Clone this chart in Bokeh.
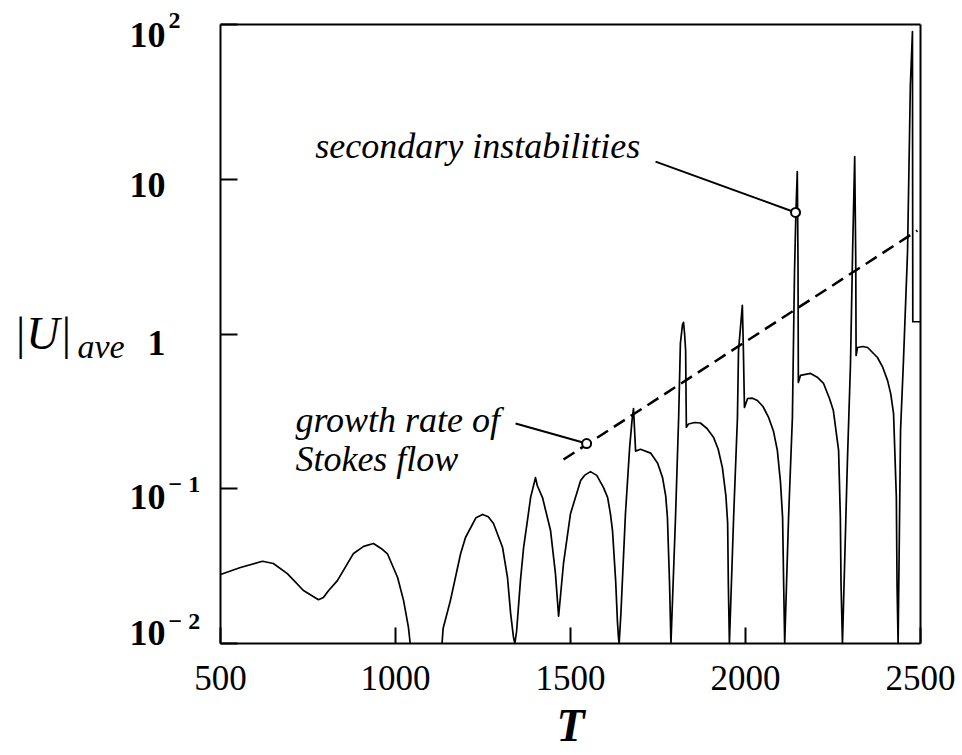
from bokeh.plotting import figure
from bokeh.models import Range1d, FixedTicker, Label, LinearAxis, LogAxis
from bokeh.embed import file_html
from bokeh.resources import INLINE

NaN = float("nan")

# ---------------- data ----------------
T = [500, 557, 620, 651, 691, 737, 780, 794, 809, 834, 880, 909, 937, 960, 977, 1006, 1023, 1037, 1042,
     NaN,
     1133, 1136, 1157, 1186, 1200, 1230, 1249, 1265, 1280, 1306, 1320, 1329, 1337,
     1341, 1346, 1357, 1366, 1377, 1386, 1400, 1405, 1420, 1443, 1457, 1466, 1480, 1500, 1529, 1540, 1557, 1575,
     1594, 1606, 1614, 1620, 1629, 1634, 1637,
     1639, 1644, 1657, 1669, 1676, 1680, 1683, 1686, 1700, 1729, 1749, 1763, 1772, 1777, 1783,
     1787, 1800, 1809, 1814, 1820, 1823, 1826, 1829, 1831, 1837, 1855, 1871, 1890, 1909, 1922, 1934, 1944, 1949, 1951,
     1954, 1966, 1977, 1980, 1991, 1994, 1997, 2006, 2020, 2034, 2050, 2066, 2080, 2091, 2100, 2106, 2109,
     2112, 2123, 2134, 2140, 2144, 2148, 2150, 2151, 2157, 2186, 2205, 2223, 2240, 2251, 2266, 2271, 2273,
     2277, 2291, 2300, 2306, 2312, 2315, 2316, 2320, 2335, 2349, 2377, 2392, 2406, 2415, 2423, 2431, 2433,
     2436, 2443, 2451, 2463, 2471, 2477, 2478, 2500]
U_ave = [0.0279, 0.031, 0.034, 0.0329, 0.0283, 0.022, 0.0192, 0.0198, 0.022, 0.0255, 0.0382, 0.0424, 0.0443, 0.041, 0.038, 0.0267, 0.019, 0.0127, 0.0100,
         NaN,
         0.0100, 0.0125, 0.019, 0.038, 0.0484, 0.065, 0.0682, 0.066, 0.0596, 0.0417, 0.0267, 0.0156, 0.0110,
         0.0100, 0.0120, 0.0255, 0.0417, 0.0624, 0.0877, 0.118, 0.105, 0.0877, 0.0537, 0.0283, 0.0150, 0.0329, 0.069, 0.113, 0.122, 0.129, 0.122,
         0.102, 0.088, 0.069, 0.0537, 0.0255, 0.014, 0.0110,
         0.0100, 0.0156, 0.069, 0.185, 0.28, 0.33, 0.24, 0.175, 0.180, 0.170, 0.146, 0.118, 0.09, 0.065, 0.0244,
         0.0100, 0.065, 0.289, 0.87, 1.15, 1.19, 1.0, 0.78, 0.25, 0.262, 0.268, 0.266, 0.245, 0.214, 0.18, 0.137, 0.09, 0.060, 0.024,
         0.0100, 0.065, 0.289, 0.78, 1.53, 0.78, 0.335, 0.383, 0.385, 0.372, 0.34, 0.289, 0.235, 0.177, 0.11, 0.065, 0.0244,
         0.0100, 0.065, 0.289, 2.5, 6.1, 11.2, 3.0, 0.486, 0.54, 0.556, 0.526, 0.479, 0.383, 0.32, 0.177, 0.065, 0.024,
         0.0100, 0.146, 0.645, 3.41, 14.0, 3.0, 0.726, 0.818, 0.83, 0.818, 0.705, 0.61, 0.50, 0.41, 0.306, 0.0877, 0.024,
         0.0100, 0.238, 0.645, 3.41, 40.0, 90.0, 1.2, 1.2]

growth_T = [1480, 2491]
growth_U = [0.1545, 4.66]

x_ticks = [500, 1000, 1500, 2000, 2500]
y_ticks = [0.01, 0.1, 1, 10, 100]
y_mantissa = ["10", "10", "1", "10", "10"]
y_exponent = ["\u2212 2", "\u2212 1", "", "", "2"]

secondary_text = "secondary instabilities"
growth_text = ["growth rate of", "Stokes flow"]
x_title = "T"
y_title = "|U|"
y_title_sub = "ave"

SERIF = "Liberation Serif"

# ---------------- layout: plot box 500..2500 x 1e-2..1e2 at pixels 220..920 x 24..643 ----------------
W, H = 962, 755
BOX_L, BOX_R, BOX_T, BOX_B = 220, 920, 24, 643
x_per_px = 2000 / (BOX_R - BOX_L)
dec_per_px = 4 / (BOX_B - BOX_T)
x_lo = 500 - BOX_L * x_per_px
x_hi = 2500 + (W - BOX_R) * x_per_px
y_lo = 10 ** (-2 - (H - BOX_B) * dec_per_px)
y_hi = 10 ** (2 + BOX_T * dec_per_px)

p = figure(width=W, height=H,
           x_range=Range1d(x_lo, x_hi), y_range=Range1d(y_lo, y_hi),
           y_axis_type="log", output_backend="svg", toolbar_location=None,
           min_border=0)
p.background_fill_color = "white"
p.border_fill_color = "white"
p.xgrid.visible = False
p.ygrid.visible = False
p.outline_line_color = None


def style_axis(ax, ticks, tick_len):
    ax.ticker = FixedTicker(ticks=ticks, minor_ticks=[])
    ax.major_tick_in = tick_len
    ax.major_tick_out = 0
    ax.major_tick_line_width = 2
    ax.major_tick_line_color = "black"
    ax.minor_tick_line_color = None
    ax.axis_line_width = 2
    ax.axis_line_color = "black"


xa = p.xaxis[0]
style_axis(xa, x_ticks, 16)
xa.fixed_location = 0.01
xa.bounds = (500, 2500)
xa.major_label_text_font = SERIF
xa.major_label_text_font_size = "35px"
xa.major_label_text_color = "black"
xa.major_label_standoff = 22

ya = p.yaxis[0]
style_axis(ya, y_ticks, 17)
ya.fixed_location = 500
ya.bounds = (0.01, 100)
ya.major_label_overrides = {t: "" for t in y_ticks}

# top and right edges of the box
top_ax = LinearAxis(fixed_location=100, bounds=(500, 2500))
style_axis(top_ax, [], 0)
top_ax.major_label_text_font_size = "0px"
p.add_layout(top_ax, "above")
right_ax = LogAxis(fixed_location=2500, bounds=(0.01, 100))
style_axis(right_ax, [], 0)
right_ax.major_label_text_font_size = "0px"
p.add_layout(right_ax, "right")

# main curve
p.line(T, U_ave, line_color="black", line_width=1.7, line_join="round")

# growth-rate dashed line
p.line(growth_T, growth_U, line_color="black", line_width=2.5, line_dash="13 7")

# annotation leaders
p.line([1743, 2143], [13.0, 6.1], line_color="black", line_width=2)
p.line([1343, 1546], [0.264, 0.196], line_color="black", line_width=2)
p.scatter([2143, 1546], [6.1, 0.196], marker="circle", size=9,
          fill_color="white", line_color="black", line_width=2)


def lab(text, x, y, size, style="normal", align="left", baseline="alphabetic", dx=0, dy=0):
    px = int(size.replace("px", ""))
    if baseline == "alphabetic":
        dy += round(0.39 * px)   # calibrated baseline correction
    p.add_layout(Label(x=x, y=y, x_units="data", y_units="data", x_offset=dx, y_offset=dy,
                       text=text, text_font=SERIF, text_font_size=size, text_font_style=style,
                       text_color="black", text_align=align, text_baseline=baseline))


# y tick labels (mantissa + exponent)
base_dy = [11, -8, -9, -6, -10]
exp_dy = [12, 13, 0, 0, 14]
for t, m, e, bd, ed in zip(y_ticks, y_mantissa, y_exponent, base_dy, exp_dy):
    lab(m, 500, t, "36px", "bold", "right", "middle", dx=-55, dy=bd)
    if e:
        lab(e, 500, t, "24px", "bold", "left", "middle", dx=-52, dy=bd + ed)

# axis titles
lab(x_title, 1500, 0.01, "46px", "bold italic", "center", "alphabetic", dy=-100)
lab(y_title, 500, 1, "46px", "italic", "left", "alphabetic", dx=-207, dy=-17)
lab(y_title_sub, 500, 1, "34px", "italic", "left", "alphabetic", dx=-143, dy=-25)

# annotations
lab(secondary_text, 771, 13.22, "36px", "italic")
lab(growth_text[0], 714, 0.2275, "36px", "italic")
lab(growth_text[1], 714, 0.1255, "36px", "italic")

open("out.html", "w").write(file_html(p, INLINE))
